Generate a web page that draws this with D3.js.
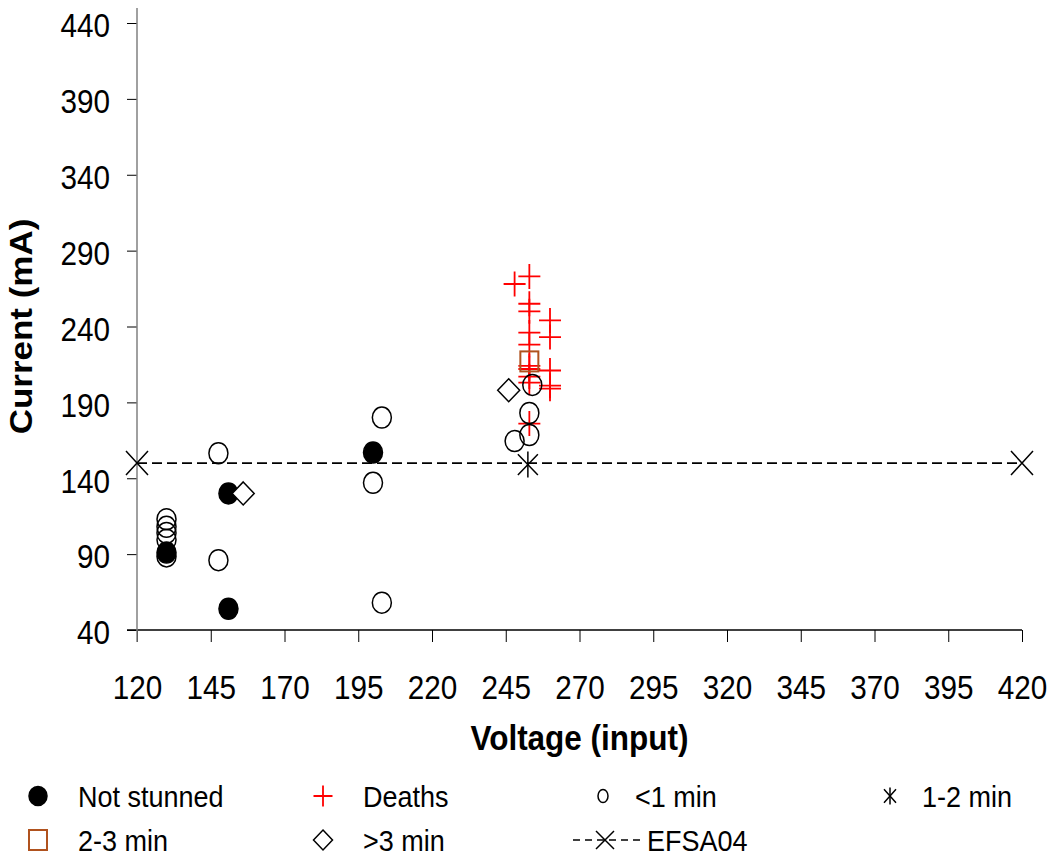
<!DOCTYPE html>
<meta charset="utf-8">
<title>Current vs Voltage</title>
<script src="https://cdn.jsdelivr.net/npm/d3@7"></script>
<style>
  body { margin: 0; background: #fff; }
  svg text { font-family: "Liberation Sans", Arial, sans-serif; fill: #000; }
</style>
<div id="chart"></div>
<script>

  // data: [voltage, current]
  var notStunned = [[130, 91], [151, 130], [151, 54], [200, 157]];
  var deaths = [[253, 273], [248, 268], [253, 255], [253, 250], [260, 244], [253, 236], [260, 233],
    [253, 228], [253, 214], [253, 212], [260, 211], [253, 207], [253, 203], [260, 201], [260, 199], [253, 176]];
  var underOne = [[130, 113], [130, 108], [130, 104], [130, 99.5], [130, 88.5], [147.6, 156.5], [147.6, 86],
    [203, 180], [200, 137], [203, 58], [254, 201.5], [253, 183], [253, 168.5], [248, 164.5]];
  var oneToTwo = [[252.5, 149]];
  var twoToThree = [[253, 217]];
  var overThree = [[156, 130], [246, 198]];
  var efsa04 = [[120, 150], [420, 150]];

  var xTicks = [120, 145, 170, 195, 220, 245, 270, 295, 320, 345, 370, 395, 420];
  var yTicks = [40, 90, 140, 190, 240, 290, 340, 390, 440];

  var legendItems = [
    { key: "notStunned", text: "Not stunned" },
    { key: "deaths", text: "Deaths" },
    { key: "underOne", text: "<1 min" },
    { key: "oneToTwo", text: "1-2 min" },
    { key: "twoToThree", text: "2-3 min" },
    { key: "overThree", text: ">3 min" },
    { key: "efsa", text: "EFSA04" }
  ];

  var width = 1053, height = 857;
  var brown = "#b0521e";

  var svg = d3.select("#chart").append("svg")
    .attr("width", width)
    .attr("height", height);

  var x = d3.scaleLinear().domain([120, 420]).range([137, 1022]);
  var y = d3.scaleLinear().domain([40, 440]).range([630, 23]);

  // axes
  var yAxis = svg.append("g")
    .attr("transform", "translate(" + x(120) + ",0)")
    .call(d3.axisLeft(y).tickValues(yTicks).tickSize(10).tickPadding(20));
  yAxis.select(".domain").remove();
  yAxis.selectAll("line").attr("stroke", "#000");
  yAxis.selectAll("text")
    .attr("transform", "scale(0.9,1)")
    .attr("dy", "0.42em")
    .style("font-size", "33px");

  var xAxis = svg.append("g")
    .attr("transform", "translate(0," + y(40) + ")")
    .call(d3.axisBottom(x).tickValues(xTicks).tickSize(12));
  xAxis.select(".domain").remove();
  xAxis.selectAll("line").attr("stroke", "#000");
  xAxis.selectAll("text")
    .attr("y", 69)
    .attr("dy", 0)
    .attr("transform", "scale(0.9,1)")
    .style("font-size", "33px");

  svg.append("line")
    .attr("x1", x(120) - 10).attr("x2", x(420))
    .attr("y1", y(40)).attr("y2", y(40))
    .attr("stroke", "#000").attr("stroke-width", 1.3);
  svg.append("line")
    .attr("x1", x(120)).attr("x2", x(120))
    .attr("y1", 8).attr("y2", y(40) + 12)
    .attr("stroke", "#808080").attr("stroke-width", 1.5);

  // axis titles
  svg.append("text")
    .attr("transform", "translate(32," + (y(40) + y(440)) / 2 + ") scale(0.9,1) rotate(-90)")
    .attr("text-anchor", "middle")
    .style("font-size", "35px")
    .style("font-weight", "bold")
    .text("Current (mA)");

  svg.append("text")
    .attr("transform", "translate(" + (x(120) + x(420)) / 2 + ",750) scale(0.9,1)")
    .attr("text-anchor", "middle")
    .style("font-size", "35px")
    .style("font-weight", "bold")
    .text("Voltage (input)");

  // marker drawers, (w,h) = marker box
  function drawCircle(g, w, h, filled) {
    g.append("ellipse").attr("rx", w / 2).attr("ry", h / 2)
      .attr("fill", filled ? "#000" : "none")
      .attr("stroke", "#000").attr("stroke-width", 1.5);
  }
  function drawCross(g, w, h, color) {
    g.append("path")
      .attr("d", "M" + (-w / 2) + ",0H" + (w / 2) + "M0," + (-h / 2) + "V" + (h / 2))
      .attr("stroke", color).attr("stroke-width", 1.8).attr("fill", "none");
  }
  function drawX(g, w, h) {
    g.append("path")
      .attr("d", "M" + (-w / 2) + "," + (-h / 2) + "L" + (w / 2) + "," + (h / 2) +
        "M" + (-w / 2) + "," + (h / 2) + "L" + (w / 2) + "," + (-h / 2))
      .attr("stroke", "#000").attr("stroke-width", 1.5).attr("fill", "none");
  }
  function drawStar(g, w, h) {
    drawX(g, w, h * 0.8);
    g.append("path").attr("d", "M0," + (-h / 2) + "V" + (h / 2))
      .attr("stroke", "#000").attr("stroke-width", 1.5);
  }
  function drawSquare(g, w, h) {
    g.append("rect").attr("x", -w / 2).attr("y", -h / 2).attr("width", w).attr("height", h)
      .attr("fill", "none").attr("stroke", brown).attr("stroke-width", 2);
  }
  function drawDiamond(g, w, h) {
    g.append("path")
      .attr("d", "M0," + (-h / 2) + "L" + (w / 2) + ",0L0," + (h / 2) + "L" + (-w / 2) + ",0Z")
      .attr("fill", "#fff").attr("stroke", "#000").attr("stroke-width", 1.5);
  }

  function plotSeries(data, draw) {
    svg.append("g").selectAll("g")
      .data(data)
      .enter().append("g")
      .attr("transform", function (d) { return "translate(" + x(d[0]) + "," + y(d[1]) + ")"; })
      .each(function () { draw(d3.select(this)); });
  }

  plotSeries(notStunned, function (g) { drawCircle(g, 19, 21, true); });
  plotSeries(deaths, function (g) { drawCross(g, 22, 25, "#ff0000"); });
  plotSeries(underOne, function (g) { drawCircle(g, 19, 21, false); });
  plotSeries(oneToTwo, function (g) { drawStar(g, 20, 26); });
  plotSeries(twoToThree, function (g) { drawSquare(g, 18, 20); });
  plotSeries(overThree, function (g) { drawDiamond(g, 22, 23); });

  // EFSA04 reference line
  svg.append("path")
    .datum(efsa04)
    .attr("d", d3.line().x(function (d) { return x(d[0]); }).y(function (d) { return y(d[1]); }))
    .attr("fill", "none")
    .attr("stroke", "#000")
    .attr("stroke-width", 1.8)
    .attr("stroke-dasharray", "10,5");
  plotSeries(efsa04, function (g) { drawX(g, 22, 24); });

  // legend
  var legendPos = {
    notStunned: [38, 796, 78], deaths: [323, 796, 363], underOne: [603, 796, 635], oneToTwo: [890, 796, 922],
    twoToThree: [38, 840, 78], overThree: [323, 840, 363], efsa: [605, 840, 647]
  };
  var legendDraw = {
    notStunned: function (g) { drawCircle(g, 18, 19, true); },
    deaths: function (g) { drawCross(g, 19, 21, "#ff0000"); },
    underOne: function (g) { drawCircle(g, 10, 13, false); },
    oneToTwo: function (g) { drawStar(g, 12, 17); },
    twoToThree: function (g) { drawSquare(g, 18, 20); },
    overThree: function (g) { drawDiamond(g, 19, 20); },
    efsa: function (g) {
      g.append("line").attr("x1", -32).attr("x2", 35).attr("y1", 0).attr("y2", 0)
        .attr("stroke", "#000").attr("stroke-width", 1.6).attr("stroke-dasharray", "7,5");
      drawX(g, 18, 18);
    }
  };

  var legend = svg.append("g").selectAll("g")
    .data(legendItems)
    .enter().append("g");

  legend.append("g")
    .attr("transform", function (d) { return "translate(" + legendPos[d.key][0] + "," + legendPos[d.key][1] + ")"; })
    .each(function (d) { legendDraw[d.key](d3.select(this)); });

  legend.append("text")
    .attr("transform", function (d) {
      return "translate(" + legendPos[d.key][2] + "," + (legendPos[d.key][1] + 10.5) + ") scale(0.9,1)";
    })
    .style("font-size", "30px")
    .text(function (d) { return d.text; });

</script>
